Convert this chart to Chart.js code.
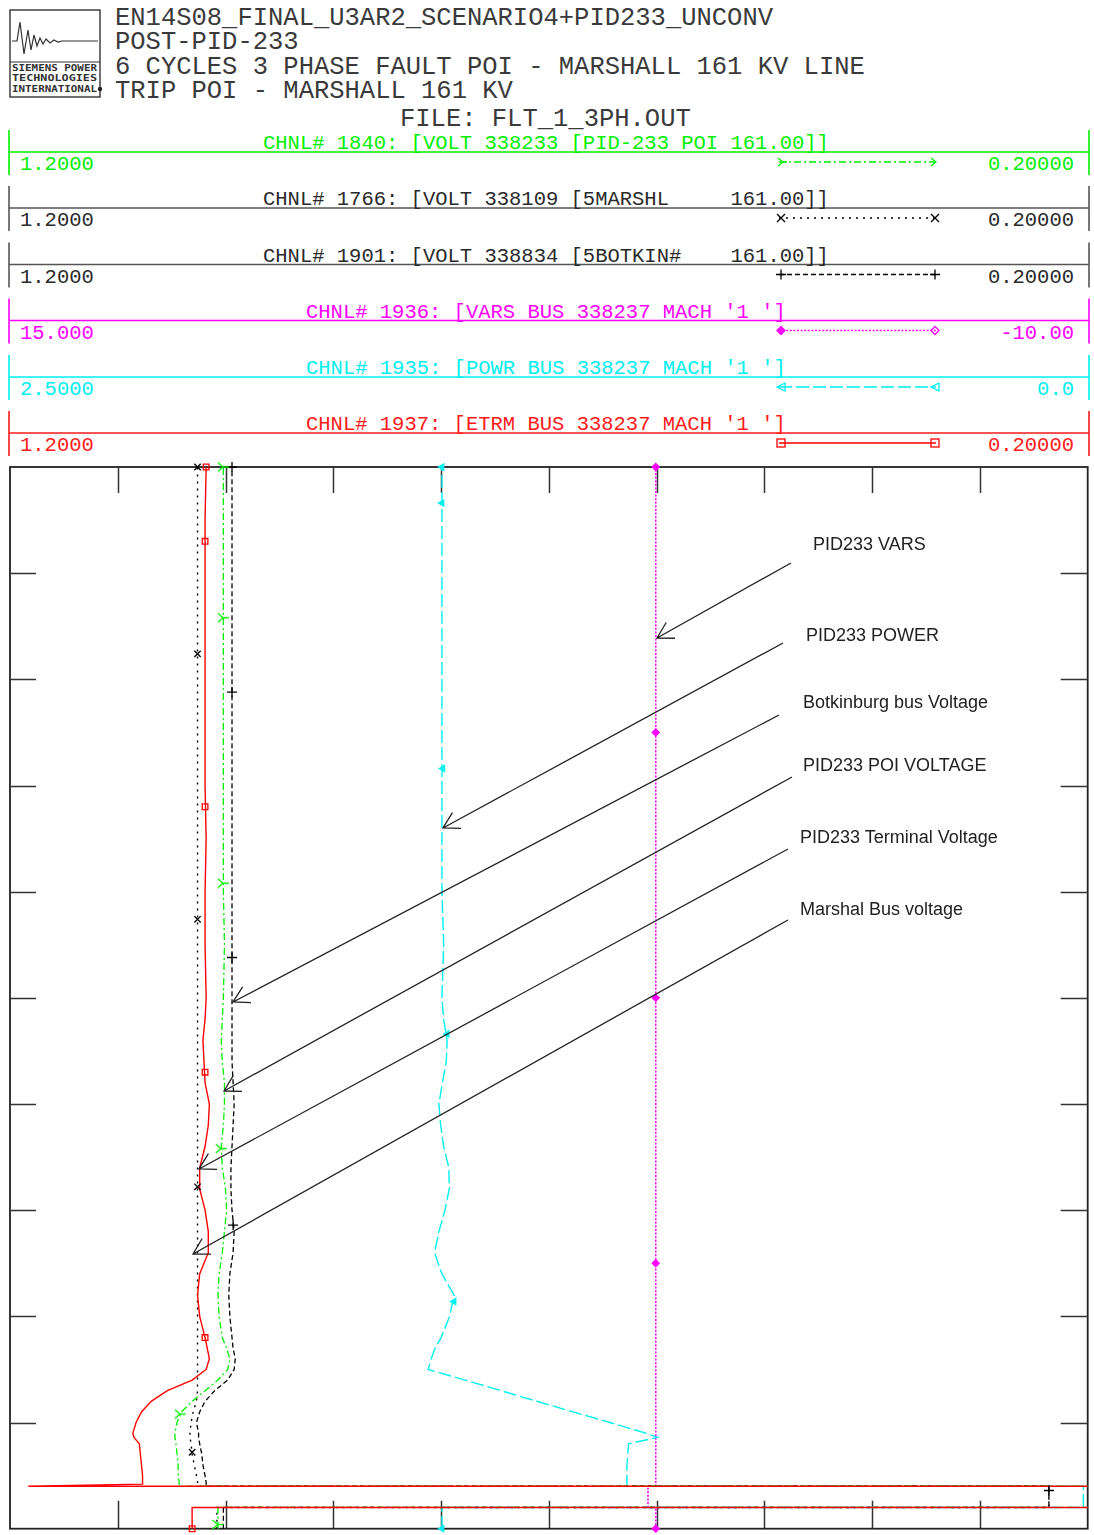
<!DOCTYPE html>
<html>
<head>
<meta charset="utf-8">
<script src="https://cdn.jsdelivr.net/npm/chart.js@4"></script>
<style>
  body { margin: 0; background: #fff; }
  #page { position: relative; width: 1094px; height: 1535px; overflow: hidden; background: #fff; }
  .mono { position: absolute; font-family: "Liberation Mono", "DejaVu Sans Mono", monospace; white-space: pre; line-height: 1; }
  .title { font-size: 25.5px; color: #3a3a3a; }
  .chl { font-size: 20.5px; }
  .note { position: absolute; font-family: "Liberation Sans", Arial, sans-serif; font-size: 18px; color: #222; white-space: nowrap; line-height: 1; }
  svg { position: absolute; left: 0; top: 0; }
  #plotBox { position: absolute; left: 0; top: 455px; width: 1094px; height: 1080px; }
</style>
</head>
<body>
<div id="page">
  <svg id="hdr" width="1094" height="470"></svg>

  <div class="mono title" style="left:115px;top:6px">EN14S08_FINAL_U3AR2_SCENARIO4+PID233_UNCONV</div>
  <div class="mono title" style="left:115px;top:30px">POST-PID-233</div>
  <div class="mono title" style="left:115px;top:54.5px">6 CYCLES 3 PHASE FAULT POI - MARSHALL 161 KV LINE</div>
  <div class="mono title" style="left:115px;top:79px">TRIP POI - MARSHALL 161 KV</div>
  <div class="mono title" style="left:400px;top:107px">FILE: FLT_1_3PH.OUT</div>

  <div id="bands"></div>

  <div id="plotBox"><canvas id="plot" width="1094" height="1080"></canvas></div>
  <svg id="notes" width="1094" height="1535"></svg>

  <div class="note" style="left:813px;top:535px">PID233 VARS</div>
  <div class="note" style="left:806px;top:626px">PID233 POWER</div>
  <div class="note" style="left:803px;top:693px">Botkinburg bus Voltage</div>
  <div class="note" style="left:803px;top:756px">PID233 POI VOLTAGE</div>
  <div class="note" style="left:800px;top:828px">PID233 Terminal Voltage</div>
  <div class="note" style="left:800px;top:900px">Marshal Bus voltage</div>
</div>

<script>
// ---- simulation time (s), shared by all traced channels ----
const timeS = [0, 0.1, 0.1, 0.2, 0.2, 0.21, 0.22, 0.25, 0.3, 0.35, 0.4, 0.43, 0.45, 0.5, 0.55,
  0.6, 0.65, 0.7, 0.75, 0.8, 0.85, 0.9, 1.0, 1.1, 1.2, 1.3, 1.4, 1.5, 1.6, 1.7, 1.8, 1.9,
  2.0, 2.1, 2.2, 2.3, 2.4, 2.5, 2.75, 3.0, 3.25, 3.5, 3.75, 4.0, 4.25, 4.5, 4.75, 5.0];

// CHNL 1937: ETRM, machine terminal voltage (pu)
const etrmPU = [1.031, 1.031, 0.12, 0.12, 1.183, 1.077, 1.077, 1.077, 1.078, 1.079, 1.080, 1.085, 1.086, 1.083, 1.078,
  1.069, 1.054, 1.031, 1.018, 1.015, 1.017, 1.019, 1.024, 1.026, 1.024, 1.016, 1.016, 1.019, 1.024, 1.024, 1.019, 1.016,
  1.015, 1.019, 1.020, 1.021, 1.019, 1.018, 1.019, 1.019, 1.018, 1.019, 1.019, 1.019, 1.019, 1.019, 1.019, 1.018];

// CHNL 1840: VOLT 338233 PID-233 POI (pu)
const poiPU = [1.007, 1.007, 0.05, 0.05, 1.043, 1.043, 1.043, 1.044, 1.044, 1.045, 1.046, 1.047, 1.047, 1.045, 1.041,
  1.031, 1.019, 1.007, 0.998, 0.996, 0.999, 1.003, 1.006, 1.007, 1.006, 1.003, 1.001, 0.999, 1.000, 1.003, 1.004, 1.002,
  1.001, 1.001, 1.003, 1.004, 1.003, 1.002, 1.001, 1.002, 1.002, 1.002, 1.002, 1.002, 1.002, 1.002, 1.002, 1.002];

// CHNL 1766: VOLT 338109 5MARSHL (pu)
const marshallPU = [1.008, 1.008, 0.236, 0.236, 1.026, 1.026, 1.026, 1.027, 1.029, 1.031, 1.032, 1.033, 1.033, 1.032, 1.030,
  1.027, 1.026, 1.026, 1.026, 1.026, 1.026, 1.026, 1.026, 1.026, 1.026, 1.026, 1.026, 1.026, 1.026, 1.026, 1.026, 1.026,
  1.026, 1.026, 1.026, 1.026, 1.026, 1.026, 1.026, 1.026, 1.026, 1.026, 1.026, 1.026, 1.026, 1.026, 1.026, 1.026];

// CHNL 1901: VOLT 338834 5BOTKIN# (pu)
const botkinPU = [1.002, 1.002, 0.236, 0.236, 1.018, 1.018, 1.018, 1.019, 1.021, 1.022, 1.024, 1.025, 1.025, 1.027, 1.024,
  1.019, 1.010, 0.998, 0.992, 0.991, 0.993, 0.994, 0.996, 0.997, 0.996, 0.993, 0.992, 0.994, 0.995, 0.995, 0.994, 0.993,
  0.992, 0.993, 0.994, 0.994, 0.994, 0.994, 0.994, 0.994, 0.994, 0.994, 0.994, 0.994, 0.994, 0.994, 0.994, 0.994];

// CHNL 1935: POWR, machine active power
const powrVals = [1.498, 1.498, 0.01, 0.01, 1.069, 1.069, 1.069, 1.069, 1.069, 1.067, 1.065, 0.998, 1.025, 1.108, 1.194,
  1.278, 1.361, 1.444, 1.530, 1.523, 1.514, 1.500, 1.480, 1.470, 1.498, 1.515, 1.505, 1.491, 1.481, 1.482, 1.494, 1.501,
  1.505, 1.497, 1.488, 1.486, 1.494, 1.498, 1.494, 1.498, 1.498, 1.498, 1.498, 1.498, 1.498, 1.498, 1.498, 1.498];

// CHNL 1936: VARS, machine reactive power
const varsVals = [0.02, 0.02, 0.2, 0.2, 0.02, 0.02, 0.02, 0.02, 0.02, 0.02, 0.02, 0.02, 0.02, 0.02, 0.02,
  0.02, 0.02, 0.02, 0.02, 0.02, 0.02, 0.02, 0.02, 0.02, 0.02, 0.02, 0.02, 0.02, 0.02, 0.02, 0.02, 0.02,
  0.02, 0.02, 0.02, 0.02, 0.02, 0.02, 0.02, 0.02, 0.02, 0.02, 0.02, 0.02, 0.02, 0.02, 0.02, 0.02];

// plot symbols along each channel
const etrmMarkT = [0, 0.9, 2.15, 3.4, 4.65, 5.0];
const etrmMarkV = [1.031, 1.019, 1.019, 1.019, 1.019, 1.018];
const poiMarkT = [0.02, 0.54, 1.79, 3.04, 4.29, 5.0];
const poiMarkV = [1.007, 1.042, 1.004, 1.002, 1.002, 1.002];
const marshallMarkT = [0.36, 1.61, 2.87, 4.12, 5.0];
const marshallMarkV = [1.031, 1.026, 1.026, 1.026, 1.026];
const botkinMarkT = [0.18, 1.43, 2.69, 3.94, 5.0];
const botkinMarkV = [0.236, 0.993, 0.994, 0.994, 0.994];
const powrMarkT = [0, 1.07, 2.33, 3.58, 4.83, 5.0];
const powrMarkV = [1.498, 1.470, 1.486, 1.496, 1.498, 1.498];
const varsMarkT = [0, 1.25, 2.5, 3.75, 5.0];
const varsMarkV = [0.02, 0.02, 0.02, 0.02, 0.02];

// channel scales (left value, right value)
const voltRange = [1.2, 0.2];
const varsRange = [15.0, -10.0];
const powrRange = [2.5, 0.0];

// division marks
const voltTicks = [1.1, 1.0, 0.9, 0.8, 0.7, 0.6, 0.5, 0.4, 0.3];
const timeTicks = [0.5, 1.0, 1.5, 2.0, 2.5, 3.0, 3.5, 4.0, 4.5];

// channel header rows
const channels = [
  { label: "CHNL# 1840: [VOLT 338233 [PID-233 POI 161.00]]", left: "1.2000", right: "0.20000", color: "#00f000", line: "#00f000", labelX: 263, kind: "poi" },
  { label: "CHNL# 1766: [VOLT 338109 [5MARSHL     161.00]]", left: "1.2000", right: "0.20000", color: "#2a2a2a", line: "#555", labelX: 263, kind: "marshall" },
  { label: "CHNL# 1901: [VOLT 338834 [5BOTKIN#    161.00]]", left: "1.2000", right: "0.20000", color: "#2a2a2a", line: "#555", labelX: 263, kind: "botkin" },
  { label: "CHNL# 1936: [VARS BUS 338237 MACH '1 ']", left: "15.000", right: "-10.00", color: "#ff00ff", line: "#ff00ff", labelX: 306, kind: "vars" },
  { label: "CHNL# 1935: [POWR BUS 338237 MACH '1 ']", left: "2.5000", right: "0.0", color: "#00f0f0", line: "#00f0f0", labelX: 306, kind: "powr" },
  { label: "CHNL# 1937: [ETRM BUS 338237 MACH '1 ']", left: "1.2000", right: "0.20000", color: "#ff1a1a", line: "#ff1a1a", labelX: 306, kind: "etrm" }
];

const COL = { poi: "#00f000", marshall: "#000", botkin: "#000", vars: "#ff00ff", powr: "#00f0f0", etrm: "#ff0000" };
const DASH = { poi: [7, 3, 2, 3], marshall: [2, 5], botkin: [5, 3], vars: [2, 1.6], powr: [13, 4], etrm: [] };

// ---------- header ----------
const NS = "http://www.w3.org/2000/svg";
const hdr = document.getElementById("hdr");
function el(parent, tag, attrs, text) {
  const e = document.createElementNS(NS, tag);
  for (const k in attrs) e.setAttribute(k, attrs[k]);
  if (text) e.textContent = text;
  parent.appendChild(e);
  return e;
}

// logo
el(hdr, "rect", { x: 10, y: 10, width: 90, height: 87, fill: "none", stroke: "#333", "stroke-width": 1.4 });
el(hdr, "line", { x1: 10, y1: 62, x2: 100, y2: 62, stroke: "#333", "stroke-width": 1.2 });
el(hdr, "polyline", { points: "12,41 17,41 20,22 24,54 28,30 31,50 34,35 37,46 40,38 43,44 46,39 50,43 54,40 58,42 62,41 98,41",
  fill: "none", stroke: "#333", "stroke-width": 1.2 });
const logoTxt = [["SIEMENS POWER", 71], ["TECHNOLOGIES", 81], ["INTERNATIONAL", 92]];
for (const [t, y] of logoTxt) {
  el(hdr, "text", { x: 12, y: y, "font-family": "DejaVu Sans Mono, monospace", "font-size": 8.2, "font-weight": "bold",
    fill: "#333", textLength: 85, lengthAdjust: "spacingAndGlyphs" }, t);
}
el(hdr, "circle", { cx: 100, cy: 89, r: 2.2, fill: "#222" });

// legend symbol painter (SVG)
function svgMark(parent, kind, x, y, color, flip) {
  const s = { stroke: color, "stroke-width": 1.3, fill: "none" };
  if (kind === "poi") {
    if (!flip) el(parent, "path", Object.assign({ d: `M${x-3},${y-4} L${x+2},${y} L${x-3},${y+4} M${x+2},${y} L${x+6},${y}` }, s));
    else el(parent, "path", Object.assign({ d: `M${x-4},${y-4} L${x+1},${y} L${x-4},${y+4}` }, s));
  } else if (kind === "marshall") {
    el(parent, "path", Object.assign({ d: `M${x-4},${y-4} L${x+4},${y+4} M${x-4},${y+4} L${x+4},${y-4}` }, s));
  } else if (kind === "botkin") {
    el(parent, "path", Object.assign({ d: `M${x-5},${y} L${x+5},${y} M${x},${y-5} L${x},${y+5}` }, s));
  } else if (kind === "vars") {
    el(parent, "path", Object.assign({ d: `M${x},${y-4} L${x+4},${y} L${x},${y+4} L${x-4},${y} Z` }, s, flip ? {} : { fill: color }));
  } else if (kind === "powr") {
    el(parent, "path", Object.assign({ d: `M${x+4},${y-4} L${x-4},${y} L${x+4},${y+4} Z` }, s));
  } else if (kind === "etrm") {
    el(parent, "rect", Object.assign({ x: x - 4, y: y - 4, width: 8, height: 8 }, s));
  }
}

const lineY = [152, 208, 264.5, 320.5, 377, 433];
const bands = document.getElementById("bands");
channels.forEach((c, i) => {
  const y = lineY[i];
  el(hdr, "line", { x1: 9, y1: y, x2: 1089, y2: y, stroke: c.line, "stroke-width": 1.6 });
  el(hdr, "line", { x1: 9, y1: y - 22, x2: 9, y2: y + 23, stroke: c.line, "stroke-width": 1.6 });
  el(hdr, "line", { x1: 1089, y1: y - 22, x2: 1089, y2: y + 23, stroke: c.line, "stroke-width": 1.6 });
  const sy = y + 10;
  const mc = COL[c.kind];
  el(hdr, "line", { x1: 779, y1: sy, x2: 936, y2: sy, stroke: mc, "stroke-width": 1.3,
    "stroke-dasharray": DASH[c.kind].length ? DASH[c.kind].join(" ") : "none" });
  svgMark(hdr, c.kind, 781, sy, mc, false);
  svgMark(hdr, c.kind, 935, sy, mc, true);

  const lab = document.createElement("div");
  lab.className = "mono chl"; lab.style.color = c.color;
  lab.style.left = c.labelX + "px"; lab.style.top = (y - 18) + "px";
  lab.textContent = c.label; bands.appendChild(lab);
  const lv = document.createElement("div");
  lv.className = "mono chl"; lv.style.color = c.color;
  lv.style.left = "20px"; lv.style.top = (y + 3) + "px";
  lv.textContent = c.left; bands.appendChild(lv);
  const rv = document.createElement("div");
  rv.className = "mono chl"; rv.style.color = c.color;
  rv.style.right = "20px"; rv.style.top = (y + 3) + "px";
  rv.textContent = c.right; bands.appendChild(rv);
});

// ---------- plot ----------
function tailSymbol(color) {
  const c = document.createElement("canvas");
  c.width = 13; c.height = 11;
  const g = c.getContext("2d");
  g.strokeStyle = color; g.lineWidth = 1.3;
  g.beginPath();
  g.moveTo(1, 1); g.lineTo(6, 5.5); g.lineTo(1, 10);
  g.moveTo(6, 5.5); g.lineTo(12, 5.5);
  g.stroke();
  return c;
}

function trace(vals, axis, kind, width) {
  return {
    data: timeS.map((t, i) => ({ x: vals[i], y: t })),
    xAxisID: axis, yAxisID: "y", showLine: true,
    borderColor: COL[kind], borderDash: DASH[kind], borderWidth: width,
    pointRadius: 0, tension: 0, fill: false,
    clip: { left: 0, top: 8, right: 0, bottom: 8 }
  };
}
function marks(ts, vs, axis, kind, style, opts) {
  return Object.assign({
    data: ts.map((t, i) => ({ x: vs[i], y: t })),
    xAxisID: axis, yAxisID: "y", showLine: false,
    pointStyle: style, pointRadius: 4, borderWidth: 1.3,
    borderColor: COL[kind], backgroundColor: "rgba(0,0,0,0)",
    clip: { left: 0, top: 8, right: 0, bottom: 8 }
  }, opts || {});
}

const framePlugin = {
  id: "frameTicks",
  beforeDatasetsDraw(chart) {
    const { ctx, chartArea: a, scales } = chart;
    ctx.save();
    ctx.strokeStyle = "#222";
    ctx.lineWidth = 1.8;
    ctx.strokeRect(a.left, a.top, a.right - a.left, a.bottom - a.top);
    ctx.lineWidth = 1.5;
    ctx.strokeStyle = "#333";
    ctx.beginPath();
    for (const v of voltTicks) {
      const px = Math.round(scales.x.getPixelForValue(v)) + 0.5;
      ctx.moveTo(px, a.top); ctx.lineTo(px, a.top + 26);
      ctx.moveTo(px, a.bottom); ctx.lineTo(px, a.bottom - 28);
    }
    for (const t of timeTicks) {
      const py = Math.round(scales.y.getPixelForValue(t)) + 0.5;
      ctx.moveTo(a.left, py); ctx.lineTo(a.left + 26, py);
      ctx.moveTo(a.right, py); ctx.lineTo(a.right - 27, py);
    }
    ctx.stroke();
    ctx.restore();
  }
};

new Chart(document.getElementById("plot"), {
  type: "scatter",
  data: {
    datasets: [
      marks(varsMarkT, varsMarkV, "xQ", "vars", "rectRot", { backgroundColor: COL.vars, pointRadius: 3.5 }),
      marks(powrMarkT, powrMarkV, "xP", "powr", "triangle", { rotation: -90, backgroundColor: COL.powr, pointRadius: 3.5 }),
      marks(etrmMarkT, etrmMarkV, "x", "etrm", "rect", { pointRadius: 4 }),
      marks(poiMarkT, poiMarkV, "x", "poi", tailSymbol(COL.poi)),
      marks(marshallMarkT, marshallMarkV, "x", "marshall", "crossRot", { pointRadius: 4.5 }),
      marks(botkinMarkT, botkinMarkV, "x", "botkin", "cross", { pointRadius: 5 }),
      trace(etrmPU, "x", "etrm", 1.4),
      trace(poiPU, "x", "poi", 1.3),
      trace(marshallPU, "x", "marshall", 1.4),
      trace(botkinPU, "x", "botkin", 1.3),
      trace(powrVals, "xP", "powr", 1.4),
      trace(varsVals, "xQ", "vars", 1.6)
    ]
  },
  options: {
    responsive: false,
    animation: false,
    events: [],
    layout: { padding: { left: 10, right: 4, top: 12, bottom: 2 } },
    plugins: { legend: { display: false }, tooltip: { enabled: false } },
    scales: {
      x:  { type: "linear", min: voltRange[1], max: voltRange[0], reverse: true, display: false },
      xQ: { type: "linear", axis: "x", min: varsRange[1], max: varsRange[0], reverse: true, display: false },
      xP: { type: "linear", axis: "x", min: powrRange[1], max: powrRange[0], reverse: true, display: false },
      y:  { type: "linear", min: 0, max: 5, display: false }
    }
  },
  plugins: [framePlugin]
});

// ---------- annotation arrows ----------
const notes = document.getElementById("notes");
const arrows = [
  [791, 563, 657, 638],
  [783, 643, 443, 828],
  [779, 715, 233, 1002],
  [792, 777, 224, 1091],
  [788, 849, 199, 1169],
  [788, 920, 193, 1254]
];
for (const [x1, y1, x2, y2] of arrows) {
  const ang = Math.atan2(y1 - y2, x1 - x2);
  const L = 18, spread = Math.PI / 6;
  const ax = x2 + L * Math.cos(ang - spread), ay = y2 + L * Math.sin(ang - spread);
  const bx = x2 + L * Math.cos(ang + spread), by = y2 + L * Math.sin(ang + spread);
  el(notes, "path", { d: `M${x1},${y1} L${x2},${y2} M${ax},${ay} L${x2},${y2} L${bx},${by}`,
    fill: "none", stroke: "#222", "stroke-width": 1.3 });
}
</script>
</body>
</html>
